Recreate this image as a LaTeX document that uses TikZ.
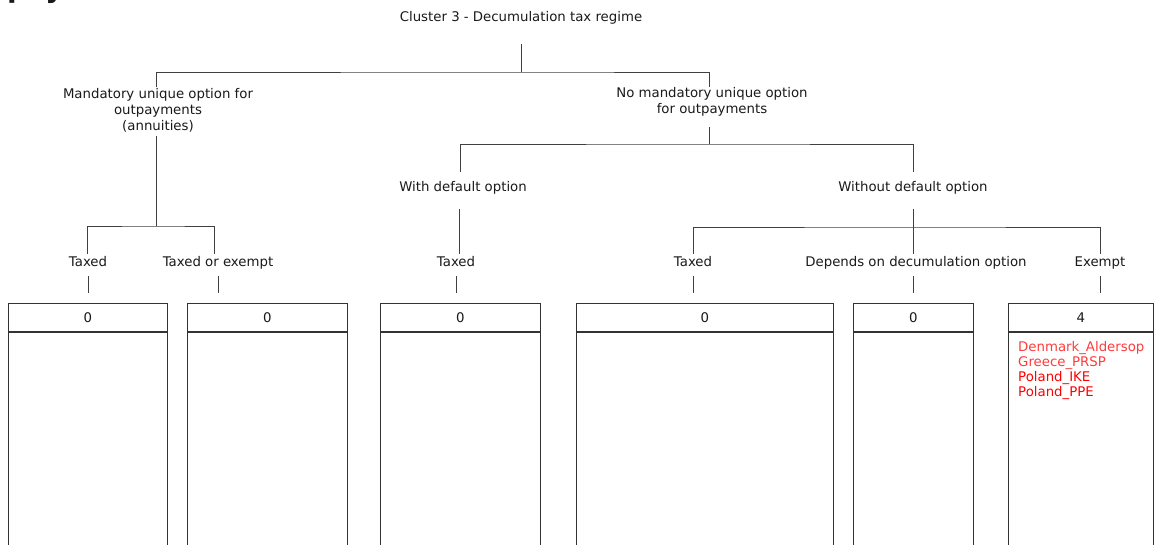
\documentclass[tikz,border=0pt]{standalone}
\usepackage{fontspec}
\setmainfont{DejaVu Sans}
\usetikzlibrary{calc}
\definecolor{ink}{HTML}{1A1A1A}
\definecolor{wire}{HTML}{404040}
\definecolor{frame}{HTML}{333333}
\definecolor{hot}{HTML}{FF3B3B}
\definecolor{hotter}{HTML}{FF0000}
\begin{document}
\begin{tikzpicture}[x=1pt,y=-1pt,
  txt/.style={inner sep=0pt, text=ink, font=\fontsize{13.3}{16}\selectfont, align=center},
  leaf/.style={txt, text height=10pt, text depth=3pt},
  conn/.style={draw=wire, line width=0.9pt},
  hdr/.style={draw=frame, line width=0.9pt, inner sep=0pt, minimum height=28pt,
              anchor=north west, text=ink, font=\fontsize{13.3}{15}\selectfont},
  body/.style={draw=frame, line width=0.9pt, inner sep=0pt, minimum height=240pt, anchor=north},
  member/.style={inner sep=0pt, anchor=base west, font=\fontsize{13.3}{15}\selectfont}
]
\useasboundingbox (0,0) rectangle (1155,545);
\clip (0,0) rectangle (1155,545);
\fill[white] (0,0) rectangle (1155,545);

% page heading, cut off by the top edge
\node[inner sep=0pt, anchor=base west, text=ink,
      font=\bfseries\fontsize{28}{28}\selectfont] (head) at (7,-2) {pay};

% tree labels
\node[txt] (t)  at (521,18)  {Cluster 3 - Decumulation tax regime};
\node[txt] (m1) at (158,110) {Mandatory unique option for\\outpayments\\(annuities)};
\node[txt] (m2) at (712,102) {No mandatory unique option\\for outpayments};
\node[leaf] (d1) at (463,188) {With default option};
\node[leaf] (d2) at (913,188) {Without default option};
\node[leaf] (l1) at (88,263)   {Taxed};
\node[leaf] (l2) at (218,263)  {Taxed or exempt};
\node[leaf] (l3) at (456,263)  {Taxed};
\node[leaf] (l4) at (693,263)  {Taxed};
\node[leaf] (l5) at (916,263)  {Depends on decumulation option};
\node[leaf] (l6) at (1100,263) {Exempt};

% root split
\draw[conn] ($(t)+(0,26)$) -- ($(t)+(0,54)$) coordinate (bar0);
\draw[conn] ($(m1)+(-2,-23)$) |- (bar0) -| ($(m2)+(-3,-15)$);

% mandatory branch
\draw[conn] ($(m1)+(-2,26)$) -- ($(m1)+(-2,116)$) coordinate (bar1);
\draw[conn] ($(l1)+(-1,-9)$) |- (bar1) -| ($(l2)+(-4,-9)$);

% non-mandatory branch
\draw[conn] ($(m2)+(-3,25)$) -- ($(m2)+(-3,42)$) coordinate (bar2);
\draw[conn] ($(d1)+(-3,-16)$) |- (bar2) -| ($(d2)+(0,-16)$);

% with default option
\draw[conn] ($(d1)+(-4,21)$) -- ($(l3)+(3,-9)$);

% without default option
\draw[conn] ($(d2)+(0,21)$) -- ($(d2)+(0,39)$) coordinate (bar3);
\draw[conn] ($(l4)+(0,-9)$) |- (bar3) -| ($(l6)+(0,-9)$);
\draw[conn] (bar3) -- ($(l5)+(-3,-9)$);

% stubs from leaf labels towards their boxes
\foreach \n/\dx in {l1/0, l2/0, l3/0, l4/0, l5/-3, l6/0}
  \draw[conn] ($(\n)+(\dx,13)$) -- ($(\n)+(\dx,30)$);

% result boxes: count header and member list
\node[hdr, minimum width=159pt] (h1) at (8,303)    {0};
\node[hdr, minimum width=160pt] (h2) at (187,303)  {0};
\node[hdr, minimum width=160pt] (h3) at (380,303)  {0};
\node[hdr, minimum width=257pt] (h4) at (576,303)  {0};
\node[hdr, minimum width=120pt] (h5) at (853,303)  {0};
\node[hdr, minimum width=145pt] (h6) at (1008,303) {4};
\node[body, minimum width=159pt] (c1) at (h1.south) {};
\node[body, minimum width=160pt] (c2) at (h2.south) {};
\node[body, minimum width=160pt] (c3) at (h3.south) {};
\node[body, minimum width=257pt] (c4) at (h4.south) {};
\node[body, minimum width=120pt] (c5) at (h5.south) {};
\node[body, minimum width=145pt] (c6) at (h6.south) {};

% members of the exempt group
\node[member, text=hot]    (n1) at (1018,351) {Denmark\_Aldersop};
\node[member, text=hot]    (n2) at (1018,366) {Greece\_PRSP};
\node[member, text=hotter] (n3) at (1018,381) {Poland\_IKE};
\node[member, text=hotter] (n4) at (1018,396) {Poland\_PPE};
\end{tikzpicture}
\end{document}
